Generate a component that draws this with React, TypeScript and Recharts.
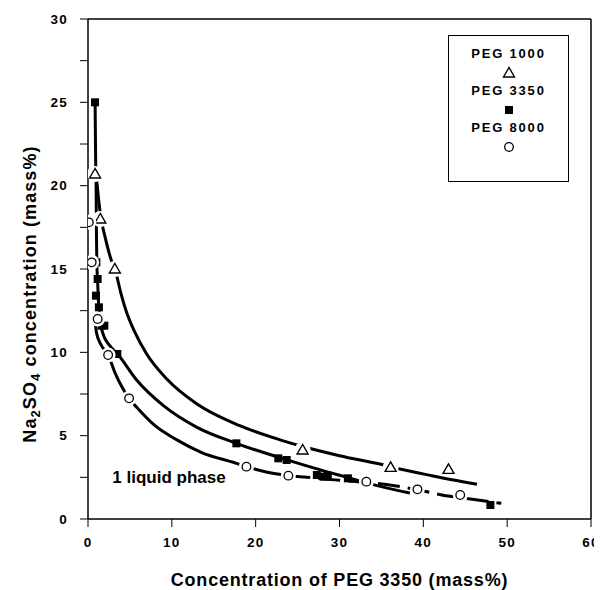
import React from "react";
import {
  ComposedChart, Line, Scatter, XAxis, YAxis, Label, Legend,
  ReferenceLine, ReferenceDot,
} from "recharts";

// measured points (mass%)
const peg1000Points = [
  { x: 0.84, y: 20.7 }, { x: 1.47, y: 18.0 }, { x: 3.2, y: 15.0 },
  { x: 25.6, y: 4.14 }, { x: 36.1, y: 3.1 }, { x: 43.0, y: 2.98 },
];
const peg3350Points = [
  { x: 0.84, y: 25.0 }, { x: 1.0, y: 15.4 }, { x: 1.15, y: 14.4 }, { x: 0.95, y: 13.4 },
  { x: 1.3, y: 12.7 }, { x: 1.6, y: 11.6 }, { x: 1.95, y: 11.6 }, { x: 3.5, y: 9.9 },
  { x: 17.7, y: 4.54 }, { x: 22.7, y: 3.64 }, { x: 23.7, y: 3.54 },
  { x: 27.3, y: 2.64 }, { x: 28.1, y: 2.54 }, { x: 28.6, y: 2.6 }, { x: 31.0, y: 2.44 },
  { x: 48.0, y: 0.84 },
];
const peg8000Points = [
  { x: 0.1, y: 17.8 }, { x: 0.44, y: 15.4 }, { x: 1.15, y: 12.0 }, { x: 2.4, y: 9.84 },
  { x: 4.9, y: 7.24 }, { x: 18.9, y: 3.14 }, { x: 23.9, y: 2.6 }, { x: 33.2, y: 2.24 },
  { x: 39.3, y: 1.78 }, { x: 44.4, y: 1.44 },
];

// fitted curves
const peg1000Curve = [
  { x: 0.9, y: 21.0 }, { x: 1.2, y: 19.5 }, { x: 1.5, y: 18.2 }, { x: 2.0, y: 17.0 },
  { x: 2.8, y: 15.5 }, { x: 3.2, y: 15.0 }, { x: 4.0, y: 13.4 }, { x: 4.6, y: 12.4 },
  { x: 5.5, y: 11.3 }, { x: 7.0, y: 9.9 }, { x: 9.4, y: 8.4 }, { x: 13.0, y: 6.9 },
  { x: 18.1, y: 5.6 }, { x: 22.9, y: 4.75 }, { x: 25.6, y: 4.35 }, { x: 30.0, y: 3.8 },
  { x: 35.2, y: 3.25 }, { x: 37.2, y: 3.0 }, { x: 41.0, y: 2.6 }, { x: 46.4, y: 2.08 },
];
const peg3350Curve = [
  { x: 0.85, y: 24.8 }, { x: 0.92, y: 21.2 }, { x: 0.97, y: 19.9 }, { x: 1.0, y: 17.5 },
  { x: 1.05, y: 15.4 }, { x: 1.15, y: 14.2 }, { x: 1.25, y: 13.0 }, { x: 1.4, y: 12.0 },
  { x: 1.8, y: 11.1 }, { x: 2.6, y: 10.4 }, { x: 3.6, y: 9.85 }, { x: 5.8, y: 8.34 },
  { x: 9.0, y: 6.8 }, { x: 13.0, y: 5.5 }, { x: 17.7, y: 4.54 }, { x: 22.9, y: 3.68 },
  { x: 27.0, y: 3.05 }, { x: 30.9, y: 2.5 }, { x: 34.5, y: 2.0 }, { x: 38.4, y: 1.56 },
];
const peg8000Curve = [
  { x: 0.84, y: 12.0 }, { x: 1.0, y: 11.2 }, { x: 1.5, y: 10.5 }, { x: 2.4, y: 9.84 },
  { x: 3.2, y: 8.8 }, { x: 4.9, y: 7.24 }, { x: 6.0, y: 6.6 }, { x: 8.0, y: 5.6 },
  { x: 10.6, y: 4.75 }, { x: 13.5, y: 4.0 }, { x: 17.7, y: 3.34 }, { x: 18.9, y: 3.14 },
  { x: 21.0, y: 2.85 }, { x: 23.9, y: 2.6 },
];
const peg8000Tail = [
  { x: 23.9, y: 2.6 }, { x: 25.3, y: 2.54 }, { x: 30.0, y: 2.32 }, { x: 33.2, y: 2.2 },
  { x: 36.0, y: 2.04 }, { x: 39.3, y: 1.75 }, { x: 43.2, y: 1.36 }, { x: 45.0, y: 1.24 },
  { x: 49.3, y: 0.94 },
];

const xTicks = [0, 10, 20, 30, 40, 50, 60];
const yTicks = [0, 2.5, 5, 7.5, 10, 12.5, 15, 17.5, 20, 22.5, 25, 27.5, 30];
const legendItems = [
  { name: "PEG 1000", marker: "triangle" },
  { name: "PEG 3350", marker: "square" },
  { name: "PEG 8000", marker: "circle" },
];

const FONT = "'Liberation Sans', Arial, sans-serif";

const Triangle = (p: any) => (
  <g>
    <circle cx={p.cx} cy={p.cy} r={8} fill="#fff" />
    <polygon
      points={`${p.cx},${p.cy - 5.5} ${p.cx - 5.5},${p.cy + 4} ${p.cx + 5.5},${p.cy + 4}`}
      fill="#fff" stroke="#000" strokeWidth={1.4}
    />
  </g>
);
const Square = (p: any) => <rect x={p.cx - 4} y={p.cy - 4} width={8} height={8} fill="#000" />;
const Circle = (p: any) => (
  <g>
    <circle cx={p.cx} cy={p.cy} r={7.5} fill="#fff" />
    <circle cx={p.cx} cy={p.cy} r={4.3} fill="#fff" stroke="#000" strokeWidth={1.3} />
  </g>
);

const markerFor = (m: string) =>
  m === "triangle" ? <Triangle cx={9} cy={9} /> : m === "square" ? <Square cx={9} cy={9} /> : <Circle cx={9} cy={9} />;

function LegendBox() {
  return (
    <div style={{ border: "1px solid #000", background: "#fff", width: 121, height: 147, boxSizing: "border-box", paddingTop: 10 }}>
      {legendItems.map((it) => (
        <div key={it.name} style={{ textAlign: "center", height: 37 }}>
          <div style={{ fontFamily: FONT, fontWeight: 700, fontSize: 13, letterSpacing: 1.8, lineHeight: "16px", color: "#000" }}>{it.name}</div>
          <svg width={18} height={18} style={{ display: "block", margin: "2px auto 0" }}>{markerFor(it.marker)}</svg>
        </div>
      ))}
    </div>
  );
}

function YTitle(props: any) {
  const vb = props.viewBox;
  const cx = vb.x + 22;
  const cy = vb.y + vb.height / 2 + 25;
  return (
    <text x={cx} y={cy} transform={`rotate(-90 ${cx} ${cy})`} textAnchor="middle" dominantBaseline="central"
      fontFamily={FONT} fontWeight={700} fontSize={18} letterSpacing={1.1} fill="#000">
      Na<tspan dy={5} fontSize={13}>2</tspan><tspan dy={-5}>SO</tspan><tspan dy={5} fontSize={13}>4</tspan>
      <tspan dy={-5}> concentration (mass%)</tspan>
    </text>
  );
}

const tickStyle = { fill: "#000", fontFamily: FONT, fontWeight: 700, fontSize: 13.5, letterSpacing: 1.2 };

export default function App() {
  return (
    <div style={{ position: "relative", width: 594, height: 582 }}>
      <ComposedChart width={594} height={582} margin={{ top: 11, right: 11, left: 0, bottom: 0 }} style={{ overflow: "visible" }}>
        <XAxis type="number" dataKey="x" domain={[0, 60]} ticks={xTicks} height={71}
          axisLine={{ stroke: "#000", strokeWidth: 1.5 }} tickLine={{ stroke: "#000" }}
          tickSize={8} tickMargin={10} tick={tickStyle} allowDataOverflow>
          <Label value="Concentration of PEG 3350 (mass%)" position="insideBottom" offset={4}
            style={{ fontFamily: FONT, fontWeight: 700, fontSize: 18, letterSpacing: 0.8, fill: "#000" }} />
        </XAxis>
        <YAxis type="number" dataKey="y" domain={[0, 30]} ticks={yTicks} width={80}
          axisLine={{ stroke: "#000", strokeWidth: 1.5 }} tickLine={{ stroke: "#000" }}
          tickSize={8} tickMargin={12} tick={tickStyle} allowDataOverflow
          tickFormatter={(v: number) => (v % 5 === 0 ? String(v) : "")}>
          <Label content={YTitle} />
        </YAxis>
        <ReferenceLine x={60} stroke="#000" strokeWidth={1.5} />
        <ReferenceLine y={30} stroke="#000" strokeWidth={1.5} />
        <Line data={peg1000Curve} dataKey="y" type="monotone" stroke="#000" strokeWidth={3} dot={false} isAnimationActive={false} />
        <Line data={peg3350Curve} dataKey="y" type="monotone" stroke="#000" strokeWidth={3} dot={false} isAnimationActive={false} />
        <Line data={peg8000Curve} dataKey="y" type="monotone" stroke="#000" strokeWidth={3} dot={false} isAnimationActive={false} />
        <Line data={peg8000Tail} dataKey="y" type="monotone" stroke="#000" strokeWidth={3} strokeDasharray="22 8" dot={false} isAnimationActive={false} />
        <Scatter data={peg3350Points} dataKey="y" shape={Square} isAnimationActive={false} />
        <Scatter data={peg1000Points} dataKey="y" shape={Triangle} isAnimationActive={false} />
        <Scatter data={peg8000Points} dataKey="y" shape={Circle} isAnimationActive={false} />
        <ReferenceDot x={9.66} y={2.52} r={0} fill="none" stroke="none"
          label={{ value: "1 liquid phase", position: "center", style: { fontFamily: FONT, fontWeight: 700, fontSize: 17, fill: "#000" } }} />
        <Legend layout="horizontal" align="center" verticalAlign="middle"
          wrapperStyle={{ left: 440, top: 27, width: 121, height: 147 }} content={() => <LegendBox />} />
      </ComposedChart>
    </div>
  );
}
